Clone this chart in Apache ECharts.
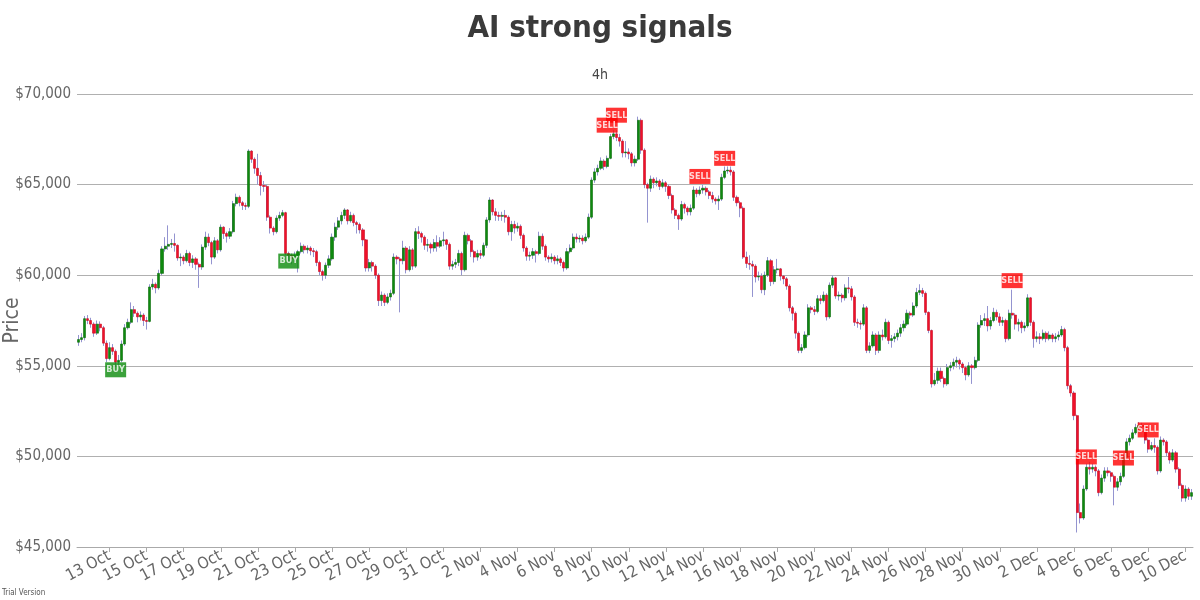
<!DOCTYPE html>
<html>
<head>
<meta charset="utf-8">
<script src="https://cdn.jsdelivr.net/npm/echarts@6/dist/echarts.min.js"></script>
<style>
  html, body { margin: 0; padding: 0; background: #fff; }
  #chart { width: 1200px; height: 600px; }
</style>
</head>
<body>
<div id="chart"></div>
<script>
// 4h candles, first one at 11 Oct 08:00
const startTime = Date.UTC(2021, 9, 11, 8);
const stepHours = 4;
const firstOpen = 56300;

const closes = [
  56450,56550,57600,57500,57300,56800,57300,57100,56250,55400,
  56000,55800,55200,55300,56200,57100,57400,58100,57900,57700,
  57800,57500,57450,59350,59500,59300,60100,61450,61600,61700,
  61750,61650,60950,61000,60800,61200,60700,60900,60600,60450,
  61550,62100,61800,61000,61900,61400,62650,62300,62150,62400,
  63950,64300,64000,63850,63800,66850,66400,65900,65500,64950,
  64900,63200,62600,62400,63150,63300,63450,61200,61100,60900,
  61100,61300,61600,61400,61500,61350,61300,60700,60200,60000,
  60550,60900,62100,62650,63000,63300,63600,63000,63300,62900,
  62800,62500,61950,60400,60700,60500,60000,58600,58900,58500,
  58800,59000,61000,60900,60800,61500,60300,61400,60500,62400,
  62300,62100,61650,61700,61500,61800,61600,61900,61950,61700,
  60500,60600,60700,61200,60300,62200,61900,61300,61000,61200,
  61100,61650,63050,64150,63500,63300,63250,63300,63200,62400,
  62800,62600,62700,62200,61500,61050,61100,61300,61200,62150,
  61600,61000,60900,61000,60800,60900,60700,60400,61300,61500,
  62100,62000,62050,61900,62100,63200,65250,65700,65900,66300,
  66000,66450,67650,67800,67600,67400,66750,66800,66700,66200,
  66400,68550,66900,65000,64800,65300,65100,65200,64900,65100,
  64900,64400,63600,63300,63100,63900,63700,63500,63700,64700,
  64500,64700,64800,64600,64400,64200,64100,64200,65400,65750,
  65800,65700,64300,64000,63700,61000,60650,60600,60500,59900,
  59950,59200,60000,60800,59650,60300,60350,59950,59800,59400,
  58200,57900,56800,55850,56000,56700,58200,58100,58000,58700,
  58600,58900,57700,59450,59850,58850,58900,58750,59300,59250,
  58800,57400,57350,57300,58200,55850,56100,56700,55850,56700,
  56600,57400,56400,56500,56600,56800,57100,57300,57900,57800,
  58300,59050,59150,59000,57950,56950,54000,54200,54700,54300,
  54000,54900,55000,55200,55300,55100,54900,54500,55000,54900,
  55300,57250,57500,57600,57200,57500,57950,57700,57400,57500,
  56500,57900,57800,57300,57400,57100,57200,58750,57400,56500,
  56600,56500,56800,56500,56700,56500,56600,56700,57000,56000,
  53900,53500,52250,46900,46600,48200,49400,49300,49400,49200,
  48000,48800,49200,49100,48900,48300,48600,48900,49950,50800,
  51000,51300,51600,51700,51650,50900,50400,50600,50500,49200,
  50900,50800,50200,49800,50200,49300,48400,47700,48200,47800,
  48000
];

const lows = [
  56100,56300,56400,57300,57100,56600,56700,56900,56100,55200,
  55300,55600,55000,55050,55200,56100,57000,57300,57700,57400,
  57500,57200,57000,57400,59200,59000,59200,60000,61300,61400,
  61500,61300,60800,60500,60600,60700,60500,60400,60300,59300,
  60300,61400,61600,60600,60900,61200,61300,62000,61800,62000,
  62300,63800,63800,63600,63600,63700,66200,65600,65000,64400,
  64600,63000,62300,62200,62300,63000,63200,61100,60700,60600,
  60700,60150,61200,61200,61200,61100,61000,60500,60000,59700,
  59800,60400,60800,61900,62500,62800,63100,62800,62900,62700,
  62300,62300,61600,60200,60200,60200,59800,58300,58300,58300,
  58400,58600,58900,60600,57950,60600,60100,60200,60300,60400,
  62000,61800,61400,61300,61200,61300,61300,61500,61600,61400,
  60300,60300,60400,60500,60000,60200,61700,61000,60700,60800,
  60900,61000,61500,62900,63300,63000,63000,63000,62900,62200,
  61900,62300,62400,62000,61300,60800,60800,60900,60700,61100,
  61400,60800,60700,60700,60600,60600,60500,60200,60300,61200,
  61400,61800,61800,61700,61800,62000,63100,65100,65500,65800,
  65800,65900,66400,67500,67400,67100,66500,66500,66400,66000,
  66000,66300,66700,64800,62900,64600,64800,64900,64700,64800,
  64600,64200,63400,63100,62500,63000,63400,63300,63300,63600,
  64300,64400,64500,64400,64200,64000,63900,63600,64100,65300,
  65600,65500,64100,63800,63200,60900,60400,60300,58800,59600,
  59700,59000,58900,59900,59400,59500,60100,59700,59500,59200,
  58000,57500,56500,55700,55700,55900,56600,57900,57800,57900,
  58400,58500,57500,57600,59300,58700,58600,58500,58600,59000,
  58600,57200,57100,57000,57200,55700,55700,56000,55600,55700,
  56400,56500,56200,56000,56300,56400,56600,56900,57200,57600,
  57700,58200,58900,58800,57800,56800,53800,53900,54000,54100,
  53800,53900,54700,54800,54900,54800,54600,54200,54400,54000,
  54800,55200,57100,57200,56900,57000,57400,57500,57200,57200,
  56300,56400,57600,57000,56900,56800,56900,57100,57200,56000,
  56300,56200,56400,56300,56400,56300,56300,56400,56600,55800,
  53700,53300,52000,45800,46300,46500,48100,49000,49100,48900,
  47800,47900,48600,48900,48600,47300,48100,48400,48800,49800,
  50600,50900,51200,51400,51400,50700,50200,50300,50200,49000,
  49100,50600,50000,49600,49700,49100,48200,47500,47500,47600,
  47600
];

const highs = [
  56700,56800,57750,57800,57650,57400,57500,57450,57200,56400,
  56300,56200,55900,55600,56400,57300,57600,58500,58300,58000,
  58000,57900,57700,59500,59800,59600,60300,61600,62100,62750,
  62000,62300,61700,61200,61100,61400,61300,61100,61000,60700,
  61700,62400,62300,61900,62100,62000,62800,62700,62400,62600,
  64100,64500,64400,64100,64000,66950,66900,66500,66700,65700,
  65200,65000,63300,62700,63300,63500,63600,63500,61300,61200,
  61300,61400,61800,61700,61650,61600,61500,61400,60800,60300,
  60700,61100,62300,62900,63200,63500,63700,63650,63500,63400,
  63000,62900,62600,62000,60900,60800,60600,60100,59100,59000,
  59000,59200,61200,61100,61000,61900,61600,61600,61500,62600,
  62700,62400,62200,62000,61800,62000,62200,62100,62400,62000,
  61800,60800,60900,61400,61300,62400,62300,62000,61400,61400,
  61400,61800,63200,64300,64200,63700,63500,63500,63600,63300,
  63000,63000,62900,62800,62300,61600,61300,61500,61400,62400,
  62300,61700,61100,61200,61100,61100,61000,60800,61500,61700,
  62300,62300,62200,62200,62300,63400,65400,65900,66100,66500,
  66400,66600,67800,68000,68000,67800,67500,67400,67000,66800,
  66600,68750,68650,67000,65100,65500,65400,65400,65300,65300,
  65200,65000,64500,63700,63400,64100,64000,63800,63900,64900,
  64800,64900,65000,64900,64700,64600,64300,64400,65600,66000,
  66000,66000,65800,64400,64100,63800,61300,61100,60800,60600,
  60200,60100,60200,61000,60900,60500,60900,60400,60000,59900,
  59500,58300,58000,56900,56200,56900,58400,58300,58300,58900,
  58900,59100,59000,59600,60000,59900,59100,59000,59500,59900,
  59400,58900,57600,57500,58400,58300,56300,56900,56800,56900,
  57000,57600,57500,56700,56800,57000,57300,57500,58100,58000,
  58500,59300,59500,59300,59100,58000,57000,54600,54900,54900,
  54400,55100,55200,55400,55500,55400,55200,55000,55200,55100,
  55500,57400,57800,57900,58300,57700,58200,58100,57900,57700,
  57600,58100,59200,57900,57600,57500,57400,58950,58800,57500,
  56900,56800,57000,56900,56900,56800,56800,56900,57200,57100,
  56100,54000,53600,52300,47400,48400,49600,49700,49600,49500,
  49300,49000,49400,49400,49200,49000,48800,49100,50100,51000,
  51200,51500,51800,51900,51850,51700,51000,50800,51000,50600,
  51100,51000,50900,50300,50400,50300,49400,48500,48400,48300,
  48200
];

// signal markers: time, price level of the box, type
const signalTimes = ['2021-10-13 08:00', '2021-10-22 16:00', '2021-11-08 20:00', '2021-11-09 08:00',
  '2021-11-13 20:00', '2021-11-15 04:00', '2021-11-30 16:00', '2021-12-04 16:00',
  '2021-12-06 16:00', '2021-12-08 00:00'];
const signalPrices = [54780, 60780, 68280, 68830, 65450, 66450, 59700, 49970, 49910, 51460];
const signalTypes = ['BUY', 'BUY', 'SELL', 'SELL', 'SELL', 'SELL', 'SELL', 'SELL', 'SELL', 'SELL'];

const monthNames = ['Jan','Feb','Mar','Apr','May','Jun','Jul','Aug','Sep','Oct','Nov','Dec'];
const pad = n => String(n).padStart(2, '0');
const categories = closes.map((_, i) => {
  const d = new Date(startTime + i * stepHours * 3600 * 1000);
  return d.getUTCFullYear() + '-' + pad(d.getUTCMonth() + 1) + '-' + pad(d.getUTCDate()) +
    ' ' + pad(d.getUTCHours()) + ':00';
});
const firstLabelIdx = categories.indexOf('2021-10-13 00:00');
const showLabel = idx => idx >= firstLabelIdx && (idx - firstLabelIdx) % 12 === 0;

const opens = closes.map((c, i) => (i === 0 ? firstOpen : closes[i - 1]));
// full candles for the wicks, bodies only for the coloured part
const wickData = closes.map((c, i) => [opens[i], c,
  Math.min(lows[i], opens[i], c), Math.max(highs[i], opens[i], c)]);
const bodyData = closes.map((c, i) => [opens[i], c, Math.min(opens[i], c), Math.max(opens[i], c)]);

const fontFam = "'DejaVu Sans Condensed', 'DejaVu Sans', sans-serif";
const green = '#0e8a0e';
const red = '#f0102a';
const wick = '#9494d0';

const chart = echarts.init(document.getElementById('chart'), null, { renderer: 'canvas' });
chart.setOption({
  animation: false,
  backgroundColor: '#fff',
  title: {
    text: 'AI strong signals',
    subtext: '4h',
    left: 'center',
    top: 8,
    itemGap: 24,
    textStyle: { fontFamily: fontFam, fontSize: 31, fontWeight: 'bold', color: '#3a3a3a' },
    subtextStyle: { fontFamily: fontFam, fontSize: 14, color: '#444' }
  },
  graphic: [{
    type: 'text', left: 2, bottom: 3,
    style: { text: 'Trial Version', fontFamily: fontFam, fontSize: 8, fill: '#555' }
  }],
  grid: { left: 77, right: 7, top: 94, bottom: 53, containLabel: false, outerBoundsMode: 'none' },
  xAxis: {
    type: 'category',
    data: categories,
    boundaryGap: true,
    axisLine: { lineStyle: { color: '#aaa' } },
    axisTick: { show: true, alignWithLabel: true, interval: showLabel, length: 5, lineStyle: { color: '#aaa' } },
    axisLabel: {
      interval: showLabel,
      rotate: 28,
      margin: 8,
      fontFamily: fontFam,
      fontSize: 16,
      color: '#666',
      formatter: v => +v.slice(8, 10) + ' ' + monthNames[+v.slice(5, 7) - 1]
    },
    splitLine: { show: false }
  },
  yAxis: {
    type: 'value',
    min: 45000,
    max: 70000,
    interval: 5000,
    name: 'Price',
    nameLocation: 'middle',
    nameRotate: 90,
    nameGap: 54,
    nameMoveOverlap: false,
    nameTextStyle: { fontFamily: fontFam, fontSize: 21, color: '#666' },
    axisLine: { show: false },
    axisTick: { show: false },
    axisLabel: {
      fontFamily: fontFam, fontSize: 15, color: '#666', margin: 6,
      formatter: v => '$' + v.toLocaleString('en-US')
    },
    splitLine: { lineStyle: { color: '#b0b0b0' } }
  },
  series: [
    {
      name: 'wicks',
      type: 'candlestick',
      data: wickData,
      barWidth: 1,
      itemStyle: { color: wick, color0: wick, borderColor: wick, borderColor0: wick, borderWidth: 1 },
      silent: true
    },
    {
      name: 'price',
      type: 'candlestick',
      data: bodyData,
      barWidth: 2.6,
      itemStyle: { color: green, color0: red, borderColor: '#0a6a0a', borderColor0: '#c80a20', borderWidth: 0.6 }
    },
    {
      name: 'signals',
      type: 'scatter',
      symbol: 'rect',
      symbolSize: [21, 15],
      z: 5,
      data: signalTimes.map((t, i) => ({
        value: [t, signalPrices[i]],
        itemStyle: { color: signalTypes[i] === 'BUY' ? '#0a8a0a' : '#ff0000' },
        label: { formatter: signalTypes[i] }
      })),
      label: {
        show: true,
        position: 'inside',
        fontFamily: fontFam,
        fontSize: 9,
        fontWeight: 'bold',
        color: '#fff'
      }
    }
  ]
});
</script>
</body>
</html>
